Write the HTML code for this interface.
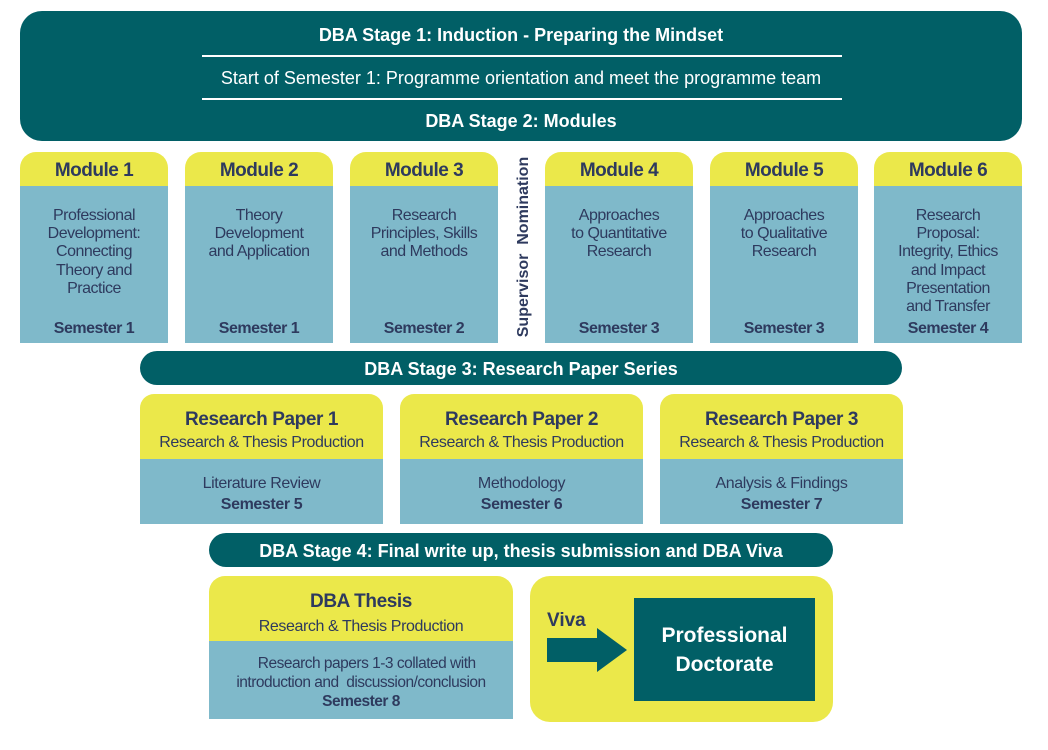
<!DOCTYPE html>
<html><head><style>
body{margin:0;width:1048px;height:750px;background:#fff;position:relative;font-family:"Liberation Sans",sans-serif;color:#2e3a5e;overflow:hidden}
div{position:absolute;box-sizing:border-box}
.teal{background:#015f66;color:#fff;font-weight:bold;text-align:center}
.y{background:#ebe84a}.b{background:#7fb9ca}
.mod{width:148px;top:152px;height:191px}
.mod .h{left:0;top:0;width:148px;height:34px;border-radius:16px 16px 0 0;font-weight:bold;font-size:19px;text-align:center;line-height:37px;letter-spacing:-0.5px}
.mod .c{left:0;top:34px;width:148px;height:157px;text-align:center;font-size:16px;line-height:18.2px;padding-top:21px;letter-spacing:-0.5px;white-space:nowrap}
.mod .s{left:0;width:148px;top:168px;font-weight:bold;font-size:16px;text-align:center;letter-spacing:-0.5px}
.rp{width:243px;top:394px;height:130px}
.rp .h{left:0;top:0;width:243px;height:65px;border-radius:14px 14px 0 0;text-align:center;font-size:16px;padding-top:15px;line-height:22px;letter-spacing:-0.4px}
.rp .c{left:0;top:65px;width:243px;height:65px;text-align:center;font-size:16px;padding-top:14px;line-height:21px;letter-spacing:-0.4px}
</style></head><body>
<div class="teal" style="left:20px;top:11px;width:1002px;height:130px;border-radius:22px">
<div style="left:0;width:100%;top:14px;font-size:18px">DBA Stage 1: Induction - Preparing the Mindset</div>
<div style="left:182px;width:640px;top:44px;height:2px;background:#fff"></div>
<div style="left:0;width:100%;top:57px;font-size:18px;font-weight:normal">Start of Semester 1: Programme orientation and meet the programme team</div>
<div style="left:182px;width:640px;top:87px;height:2px;background:#fff"></div>
<div style="left:0;width:100%;top:100px;font-size:18px">DBA Stage 2: Modules</div>
</div>

<div class="mod" style="left:20px"><div class="h y">Module 1</div><div class="c b">Professional<br>Development:<br>Connecting<br>Theory and<br>Practice</div><div class="s">Semester 1</div></div>
<div class="mod" style="left:185px"><div class="h y">Module 2</div><div class="c b">Theory<br>Development<br>and Application</div><div class="s">Semester 1</div></div>
<div class="mod" style="left:350px"><div class="h y">Module 3</div><div class="c b">Research<br>Principles, Skills<br>and Methods</div><div class="s">Semester 2</div></div>
<div class="mod" style="left:545px"><div class="h y">Module 4</div><div class="c b">Approaches<br>to Quantitative<br>Research</div><div class="s">Semester 3</div></div>
<div class="mod" style="left:710px"><div class="h y">Module 5</div><div class="c b">Approaches<br>to Qualitative<br>Research</div><div class="s">Semester 3</div></div>
<div class="mod" style="left:874px"><div class="h y">Module 6</div><div class="c b">Research<br>Proposal:<br>Integrity, Ethics<br>and Impact<br>Presentation<br>and Transfer</div><div class="s">Semester 4</div></div>

<div style="left:432px;top:235px;width:190px;height:24px;transform:rotate(-90deg);font-weight:bold;font-size:16px;text-align:center;white-space:nowrap">Supervisor&nbsp; Nomination</div>

<div class="teal" style="left:140px;top:351px;width:762px;height:34px;border-radius:17px;font-size:18px;line-height:37px">DBA Stage 3: Research Paper Series</div>

<div class="rp" style="left:140px"><div class="h y"><b style="font-size:19px">Research Paper 1</b><br>Research &amp; Thesis Production</div><div class="c b">Literature Review<br><b>Semester 5</b></div></div>
<div class="rp" style="left:400px"><div class="h y"><b style="font-size:19px">Research Paper 2</b><br>Research &amp; Thesis Production</div><div class="c b">Methodology<br><b>Semester 6</b></div></div>
<div class="rp" style="left:660px"><div class="h y"><b style="font-size:19px">Research Paper 3</b><br>Research &amp; Thesis Production</div><div class="c b">Analysis &amp; Findings<br><b>Semester 7</b></div></div>

<div class="teal" style="left:209px;top:533px;width:624px;height:34px;border-radius:17px;font-size:18px;line-height:37px">DBA Stage 4: Final write up, thesis submission and DBA Viva</div>

<div class="y" style="left:209px;top:576px;width:304px;height:65px;border-radius:16px 16px 0 0;text-align:center;font-size:16px;padding-top:14px;line-height:24px;letter-spacing:-0.4px"><b style="font-size:19px">DBA Thesis</b><br>Research &amp; Thesis Production</div>
<div class="b" style="left:209px;top:641px;width:304px;height:78px;text-align:center;font-size:15.5px;line-height:19px;padding-top:13px;letter-spacing:-0.5px">&nbsp;&nbsp;&nbsp;Research papers 1-3 collated with<br>introduction and&nbsp; discussion/conclusion<br><b>Semester 8</b></div>

<div class="y" style="left:530px;top:576px;width:303px;height:146px;border-radius:20px"></div>
<div style="left:547px;top:610px;font-weight:bold;font-size:19px">Viva</div>
<svg style="position:absolute;left:547px;top:628px" width="82" height="44"><path d="M0 10H50V0L80 22L50 44V34H0Z" fill="#015f66"/></svg>
<div class="teal" style="left:634px;top:598px;width:181px;height:103px;font-size:21px;line-height:29px;padding-top:23px">Professional<br>Doctorate</div>
</body></html>
